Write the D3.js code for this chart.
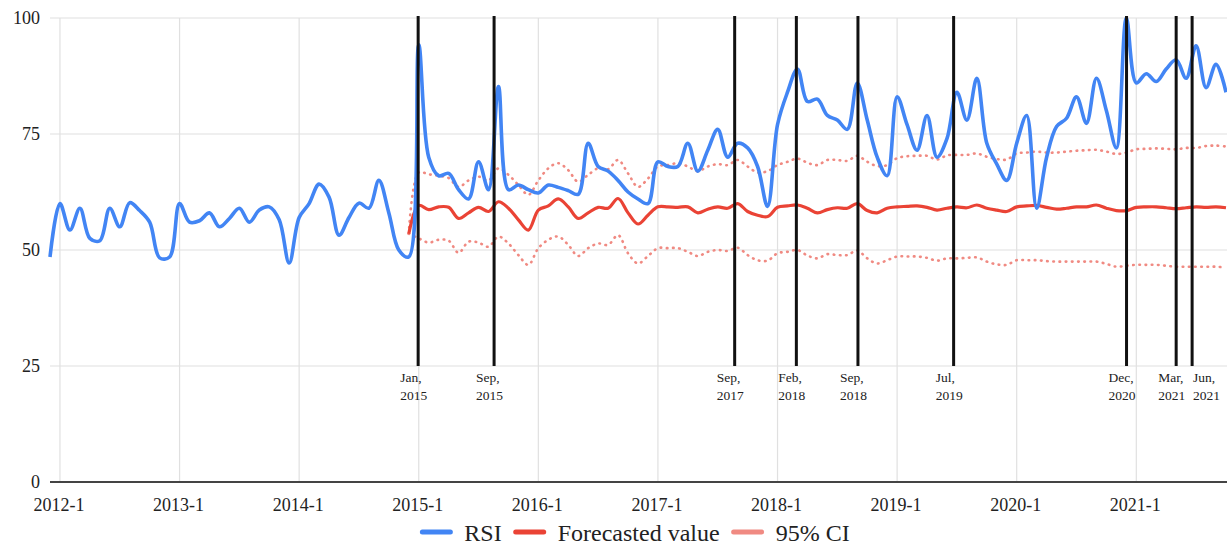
<!DOCTYPE html>
<html lang="en">
<head>
  <meta charset="UTF-8">
  <title>RSI with forecast</title>
  <style>
    body { margin: 0; background: #fff; }
    svg { display: block; }
    text { font-family: "Liberation Serif", "Times New Roman", serif; }
    .grid line { stroke: #e0e0e0; stroke-width: 1.2; }
  </style>
</head>
<body>
  <svg id="chart" width="1227" height="546"></svg>

  <script src="https://d3js.org/d3.v7.min.js"></script>
  <script>
    // months are counted from 2012-1 (index 0); the series begin at 2011-12 (index -1)
    const rsiStart = -1;
    const rsi = [
      48.5, 60, 54.3, 59, 52.5, 52, 59, 55, 60.2, 58.5, 56, 48.3, 48.5,
      60, 56, 56.3, 58, 55, 56.8, 59, 56, 58.6, 59.3, 56.5, 47.2,
      57, 60, 64.2, 61.4, 53.2, 57, 60.1, 59, 65, 58, 50, 48.5,
      94.2, 70, 66, 66.5, 63, 61, 69, 63, 85.2, 63, 64, 63,
      62.3, 64, 63.5, 62.8, 62, 73, 68, 67, 65, 62.5, 61, 60,
      69, 68, 68, 73, 67, 71.5, 76, 70, 73, 72, 68, 59.4,
      77, 84, 89, 82, 82.5, 79, 78, 76, 86, 78, 70, 66,
      83, 77, 71.5, 79, 70, 74, 84, 78, 87, 73, 68.5, 65,
      73, 79, 59, 70, 76.6, 78.4, 83, 77.3, 87, 80, 72, 100,
      86, 88, 86.3, 89, 91, 87, 94, 85, 90, 84
    ];

    // forecast and 95% CI begin at 2014-12 (index 35)
    const fcStart = 35;
    const forecast = [
      53.5,
      59.6, 58.7, 59.3, 59.2, 56.8, 58, 59.2, 58.3, 60.4, 59, 56.5, 54.3,
      58.6, 59.5, 61, 59.3, 56.8, 58, 59.2, 59, 61.1, 58, 55.6, 57.5,
      59.3, 59.3, 59.2, 59.3, 58, 58.8, 59.3, 59, 60, 58.3, 57.5, 57.2,
      59.2, 59.5, 59.7, 59, 58, 58.7, 59.1, 59, 60, 58.5, 58, 59,
      59.3, 59.4, 59.5, 59.2, 58.6, 59, 59.3, 59.1, 59.7, 59, 58.6, 58.3,
      59.3, 59.5, 59.6, 59.2, 58.8, 59, 59.3, 59.3, 59.7, 59, 58.5, 58.5,
      59.2, 59.3, 59.3, 59.1, 58.9, 59.1, 59.3, 59.2, 59.3, 59.1
    ];
    const ciUpper = [
      53.5,
      66.7, 66.3, 66, 65.5, 63.6, 65, 65.8, 65, 67.6, 66.2, 64, 61.9,
      65, 67.6, 68.7, 67.2, 64.7, 66.2, 67.6, 67.4, 69.4, 66.5, 63.6, 65.4,
      68, 68.3, 68.7, 68, 67, 68, 68.5, 68.3, 69.4, 68, 66.7, 67,
      68.3, 69, 69.7, 68.8, 68.3, 69.4, 69.4, 69.2, 70.3, 69, 68.1, 68.3,
      69.8, 70.2, 70.3, 70.3, 69.5, 70.4, 70.5, 70.5, 70.8, 70.1, 69.6, 69.5,
      70.8, 71, 71.2, 71, 71, 71.2, 71.4, 71.5, 71.6, 71.2, 70.7, 71,
      71.7, 71.8, 71.9, 71.8, 71.7, 72, 72, 72.4, 72.5, 72.3
    ];
    const ciLower = [
      53.5,
      52.5, 51.6, 52.2, 52, 49.4, 51.8, 51.6, 50.7, 52.9, 51.4, 48.9, 46.8,
      50.4, 52.2, 52.9, 51.1, 48.7, 50.4, 51.4, 51.1, 53.2, 49.3, 47.1, 48.7,
      50.4, 50.4, 50.4, 49.6, 48.7, 49.6, 50, 49.8, 50.5, 48.9, 47.8, 47.7,
      49.3, 49.6, 50, 48.8, 48.2, 49.1, 48.9, 48.9, 49.9, 48.2, 47.1, 47.8,
      48.6, 48.6, 48.6, 48.3, 47.7, 48.2, 48.2, 48.3, 48.4, 47.5, 46.9, 46.8,
      47.8, 47.8, 47.8, 47.6, 47.5, 47.5, 47.5, 47.5, 47.5, 47, 46.4, 46.6,
      46.8, 46.8, 46.8, 46.6, 46.4, 46.4, 46.4, 46.4, 46.4, 46.2
    ];

    // annotated events (month index where the black line sits)
    const eventLabels = [["Jan,", "2015"], ["Sep,", "2015"], ["Sep,", "2017"], ["Feb,", "2018"],
      ["Sep,", "2018"], ["Jul,", "2019"], ["Dec,", "2020"], ["Mar,", "2021"], ["Jun,", "2021"]];
    const eventMonths = [35.94, 43.56, 67.7, 73.89, 80.07, 89.67, 107.02, 112.0, 113.6];

    const yearTicks = [0, 12, 24, 36, 48, 60, 72, 84, 96, 108];
    const yTicks = [0, 25, 50, 75, 100];
    const legendItems = ["RSI", "Forecasted value", "95% CI"];

    const colors = { rsi: "#4285f4", forecast: "#ea4335", ci: "#f08a82" };

    const svg = d3.select("#chart");
    const plotArea = { left: 50, right: 1227, top: 18, bottom: 482 };

    const x = d3.scaleLinear().domain([-1, 117]).range([50, 1226]);
    const y = d3.scaleLinear().domain([0, 100]).range([plotArea.bottom, plotArea.top]);

    // gridlines
    const grid = svg.append("g").attr("class", "grid");
    grid.selectAll(".h").data(yTicks.filter(d => d > 0)).enter().append("line")
      .attr("x1", plotArea.left).attr("x2", plotArea.right)
      .attr("y1", d => y(d)).attr("y2", d => y(d));
    grid.selectAll(".v").data(yearTicks).enter().append("line")
      .attr("x1", d => x(d)).attr("x2", d => x(d))
      .attr("y1", plotArea.top).attr("y2", plotArea.bottom);

    // baseline
    svg.append("line")
      .attr("x1", plotArea.left).attr("x2", plotArea.right)
      .attr("y1", y(0)).attr("y2", y(0))
      .attr("stroke", "#444").attr("stroke-width", 2);

    // y labels
    svg.append("g").selectAll("text").data(yTicks).enter().append("text")
      .attr("x", 40).attr("y", d => y(d) + 6)
      .attr("text-anchor", "end")
      .attr("font-size", 18).attr("fill", "#222")
      .text(d => d);

    // x labels
    svg.append("g").selectAll("text").data(yearTicks).enter().append("text")
      .attr("x", d => x(d) - 1).attr("y", 511)
      .attr("text-anchor", "middle")
      .attr("font-size", 18).attr("fill", "#222")
      .text(d => `${2012 + d / 12}-1`);

    const line = (start) => d3.line()
      .x((d, i) => x(start + i))
      .y(d => y(d))
      .curve(d3.curveCatmullRom.alpha(0.5));

    const plot = svg.append("g");

    // 95% CI dotted
    [ciUpper, ciLower].forEach(series => {
      plot.append("path")
        .datum(series)
        .attr("d", line(fcStart))
        .attr("fill", "none")
        .attr("stroke", colors.ci)
        .attr("stroke-width", 2.6)
        .attr("stroke-linecap", "round")
        .attr("stroke-dasharray", "0.6,5.6");
    });

    // forecast
    plot.append("path")
      .datum(forecast)
      .attr("d", line(fcStart))
      .attr("fill", "none")
      .attr("stroke", colors.forecast)
      .attr("stroke-width", 3.2)
      .attr("stroke-linejoin", "round");

    // RSI
    plot.append("path")
      .datum(rsi)
      .attr("d", line(rsiStart))
      .attr("fill", "none")
      .attr("stroke", colors.rsi)
      .attr("stroke-width", 3.6)
      .attr("stroke-linejoin", "round");

    // event markers
    const ev = svg.append("g").selectAll("g").data(eventMonths).enter().append("g");
    ev.append("line")
      .attr("x1", d => x(d)).attr("x2", d => x(d))
      .attr("y1", 16).attr("y2", y(25))
      .attr("stroke", "#111").attr("stroke-width", 3);
    ev.each(function (d, i) {
      const g = d3.select(this);
      const dx = i === eventMonths.length - 1 ? 1 : -18;
      eventLabels[i].forEach((t, j) => {
        g.append("text")
          .attr("x", x(d) + dx).attr("y", 382 + j * 18)
          .attr("font-size", 13.5).attr("fill", "#222")
          .text(t);
      });
    });

    // legend
    const legendColors = [colors.rsi, colors.forecast, colors.ci];
    const lg = svg.append("g");
    let cx = 0;
    legendItems.forEach((name, i) => {
      lg.append("line")
        .attr("x1", cx + 2).attr("x2", cx + 30)
        .attr("y1", 532).attr("y2", 532)
        .attr("stroke", legendColors[i]).attr("stroke-width", 5)
        .attr("stroke-linecap", "round");
      const t = lg.append("text")
        .attr("x", cx + 44).attr("y", 541)
        .attr("font-size", 24).attr("fill", "#222")
        .text(name);
      cx += 44 + t.node().getComputedTextLength() + 12;
    });
    const lw = cx - 12;
    lg.attr("transform", `translate(${635 - lw / 2},0)`);
  </script>
</body>
</html>
